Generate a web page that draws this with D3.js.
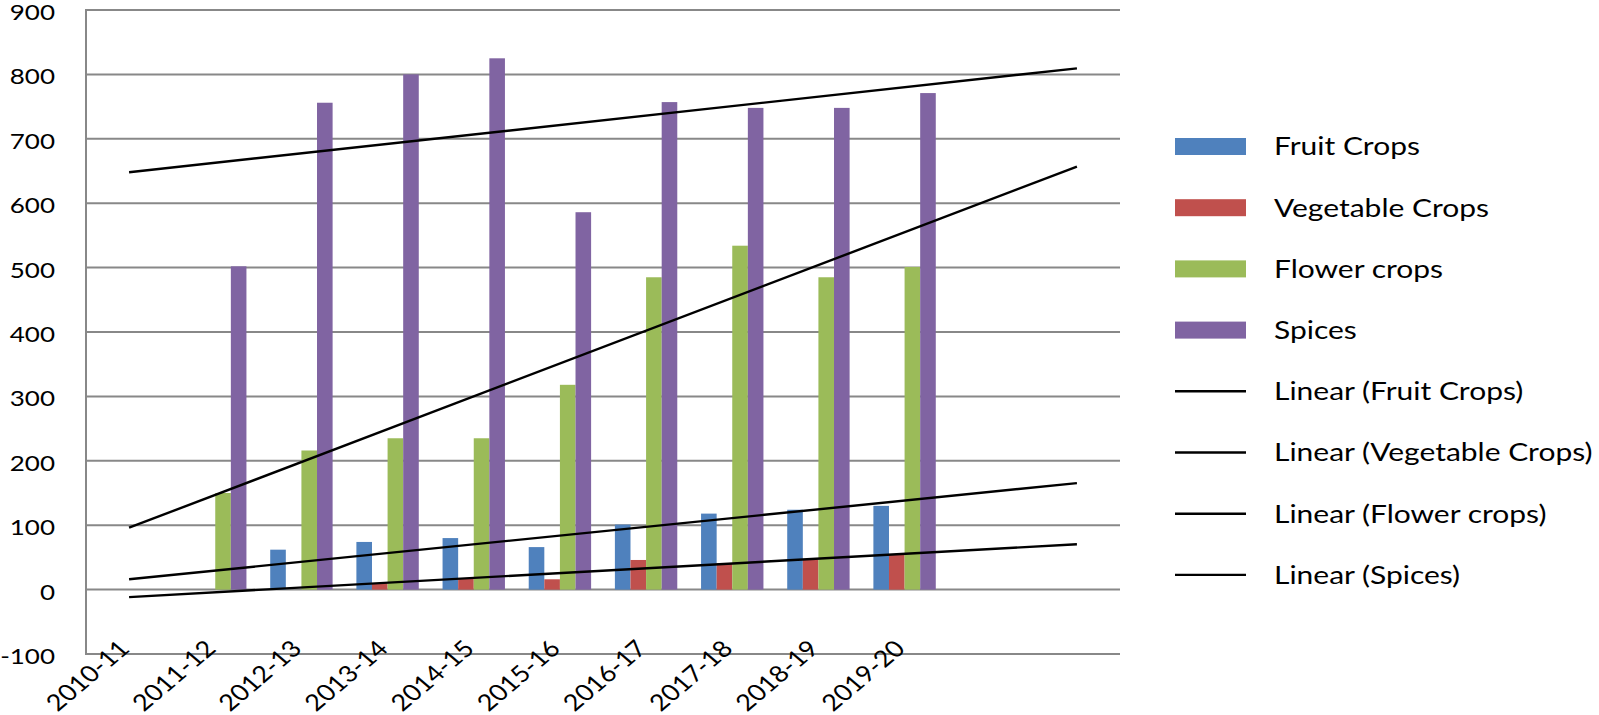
<!DOCTYPE html>
<html>
<head>
<meta charset="utf-8">
<script src="https://cdn.jsdelivr.net/npm/d3@7/dist/d3.min.js"></script>
<style>
  html, body { margin: 0; padding: 0; background: #ffffff; }
  svg { display: block; }
  text { font-family: Lato, "Open Sans", sans-serif; fill: #000; }
</style>
</head>
<body>
<svg id="chart" width="1599" height="715"></svg>
<script>
// ---- data ----
const categories = ["2010-11", "2011-12", "2012-13", "2013-14", "2014-15",
                    "2015-16", "2016-17", "2017-18", "2018-19", "2019-20"];
const seriesNames = ["Fruit Crops", "Vegetable Crops", "Flower crops", "Spices"];
const fruitCrops     = [null, 0, 62, 74, 80, 66, 101, 118, 124, 130];
const vegetableCrops = [null, 0, 0, 10, 17, 16, 46, 41, 47, 54];
const flowerCrops    = [null, 150, 216, 235, 235, 318, 485, 534, 485, 501];
const spices         = [null, 502, 756, 800, 825, 586, 757, 748, 748, 771];
const yTicks = [-100, 0, 100, 200, 300, 400, 500, 600, 700, 800, 900];
const trendForward = 2;   // periods forecast forward
const trendBackward = 1;  // periods forecast backward
const colors = ["#4F81BD", "#C0504D", "#9BBB59", "#8064A2"];

const seriesValues = [fruitCrops, vegetableCrops, flowerCrops, spices];

// ---- layout ----
const svg = d3.select("#chart");
const plot = { left: 86, right: 1120, top: 10, bottom: 654 };
const squash = 0.8;
const slots = categories.length + trendForward;
const x = d3.scaleLinear().domain([-0.5, slots - 0.5]).range([plot.left, plot.right]);
const y = d3.scaleLinear().domain([-100, 900]).range([plot.bottom, plot.top]);
const band = x(1) - x(0);
const bw = band * 0.181;
const gridColor = "#888888";

// gridlines
svg.append("g").selectAll("line").data(yTicks).join("line")
  .attr("x1", plot.left).attr("x2", plot.right)
  .attr("y1", d => y(d)).attr("y2", d => y(d))
  .attr("stroke", gridColor).attr("stroke-width", 2);

// y axis line
svg.append("line")
  .attr("x1", plot.left).attr("x2", plot.left)
  .attr("y1", y(900) - 1).attr("y2", y(-100) + 1)
  .attr("stroke", gridColor).attr("stroke-width", 2);

// y labels
svg.append("g").selectAll("text").data(yTicks).join("text")
  .attr("transform", d => `translate(55,${y(d) + 2.5}) scale(1,${squash})`)
  .attr("text-anchor", "end").attr("dy", "0.36em")
  .style("font-size", "26px")
  .text(d => d);

// bars
seriesValues.forEach((vals, s) => {
  svg.append("g").selectAll("rect")
    .data(vals.map((v, i) => ({ v, i })).filter(d => d.v !== null && d.v > 0))
    .join("rect")
    .attr("x", d => x(d.i) - 2 * bw + s * bw)
    .attr("width", bw)
    .attr("y", d => y(d.v))
    .attr("height", d => y(0) - y(d.v))
    .attr("fill", colors[s]);
});

// trend lines (least squares over available points)
function fit(vals) {
  const pts = vals.map((v, i) => [i, v]).filter(p => p[1] !== null);
  const mx = d3.mean(pts, p => p[0]), my = d3.mean(pts, p => p[1]);
  const sxy = d3.sum(pts, p => (p[0] - mx) * (p[1] - my));
  const sxx = d3.sum(pts, p => (p[0] - mx) ** 2);
  const b = sxy / sxx, a = my - b * mx;
  const first = pts[0][0] - trendBackward, last = pts[pts.length - 1][0] + trendForward;
  return [[first, a + b * first], [last, a + b * last]];
}
const line = d3.line().x(d => x(d[0])).y(d => y(d[1]));
seriesValues.forEach(vals => {
  svg.append("path").attr("d", line(fit(vals)))
    .attr("fill", "none").attr("stroke", "#000").attr("stroke-width", 2.4);
});

// x labels
svg.append("g").selectAll("text").data(categories).join("text")
  .attr("transform", (d, i) => `translate(${x(i) + 2},${plot.bottom - 4}) scale(1,0.85) rotate(-45)`)
  .attr("text-anchor", "end")
  .style("font-size", "27px")
  .text(d => d);

// legend
const legendItems = seriesNames.map((n, i) => ({ name: n, type: "bar", color: colors[i] }))
  .concat(seriesNames.map(n => ({ name: `Linear (${n})`, type: "line" })));
const lg = svg.append("g").selectAll("g").data(legendItems).join("g")
  .attr("transform", (d, i) => `translate(1175,${146.5 + i * 61.2})`);
lg.filter(d => d.type === "bar").append("rect")
  .attr("x", 0).attr("y", -8.5).attr("width", 71).attr("height", 17)
  .attr("fill", d => d.color);
lg.filter(d => d.type === "line").append("line")
  .attr("x1", 0).attr("x2", 71).attr("y1", 0).attr("y2", 0)
  .attr("stroke", "#000").attr("stroke-width", 2.4);
lg.append("text")
  .attr("transform", `translate(99,0) scale(1,${squash + 0.03})`)
  .attr("dy", "0.36em")
  .style("font-size", "30px")
  .text(d => d.name);
</script>
</body>
</html>
